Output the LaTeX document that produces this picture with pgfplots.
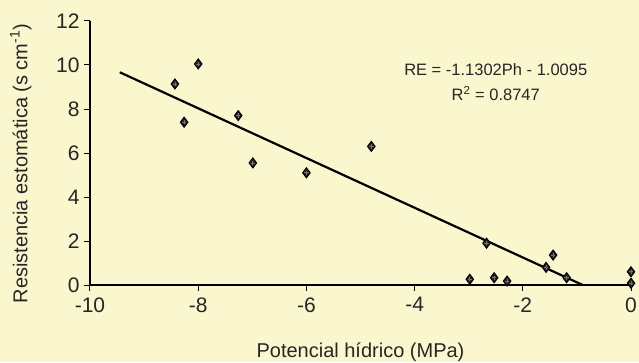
\documentclass[border=0pt]{standalone}
\usepackage{pgfplots}
\pgfplotsset{compat=1.18}
\usepackage{fontspec}
\setmainfont{Liberation Sans}
\definecolor{paper}{RGB}{250,247,206}
\begin{document}
\begin{tikzpicture}
\fill[paper] (0,0) rectangle (639pt,362pt);
\useasboundingbox (0,0) rectangle (639pt,362pt);
\begin{axis}[
  at={(90pt,77pt)}, anchor=south west, scale only axis,
  width=541pt, height=264pt,
  xmin=-10, xmax=0, ymin=0, ymax=12,
  axis lines=left,
  axis line style={black, line width=1.3pt, -},
  xtick={-10,-8,-6,-4,-2,0}, ytick={0,2,4,6,8,10,12},
  tick align=outside, major tick length=6pt,
  tick style={black, line width=1pt},
  /pgf/number format/assume math mode=true,
  ticklabel style={font=\fontsize{21}{24}\selectfont, text=black!85},
  xticklabel style={yshift=-3pt},
  yticklabel style={xshift=-1pt},
  xlabel={Potencial hídrico (MPa)},
  ylabel={Resistencia estomática (s cm\textsuperscript{-1})},
  label style={font=\fontsize{20}{23}\selectfont, text=black!85},
  xlabel style={at={(axis description cs:0.5,-0.253)}, anchor=center},
  ylabel style={at={(axis description cs:-0.128,0.46)}, anchor=center},
  clip=false,
]
\addplot[black, line width=2.2pt] coordinates {(-9.45,9.67) (-0.893,0)};
\addplot[only marks, mark=diamond*, mark size=5pt, mark options={fill=black!85, draw=black, line width=1pt}] coordinates {
(-8.43,9.14) (-8.00,10.05) (-8.26,7.40) (-7.26,7.70) (-6.99,5.55) (-6.00,5.10)
(-4.80,6.30) (-2.67,1.90) (-1.44,1.36) (-1.57,0.80) (-1.19,0.33) (-2.98,0.26)
(-2.53,0.33) (-2.29,0.18) (0,0.60) (0,0.08)};
\addplot[only marks, mark=+, mark size=2.2pt, mark options={draw=black!55, line width=0.7pt}] coordinates {
(-8.43,9.14) (-8.00,10.05) (-8.26,7.40) (-7.26,7.70) (-6.99,5.55) (-6.00,5.10)
(-4.80,6.30) (-2.67,1.90) (-1.44,1.36) (-1.57,0.80) (-1.19,0.33) (-2.98,0.26)
(-2.53,0.33) (-2.29,0.18) (0,0.60) (0,0.08)};
\node[font=\fontsize{16.5}{25}\selectfont, align=center, text=black!85] at (axis cs:-2.5,9.2)
  {RE = -1.1302Ph - 1.0095\\R\textsuperscript{2} = 0.8747};
\end{axis}
\end{tikzpicture}
\end{document}
